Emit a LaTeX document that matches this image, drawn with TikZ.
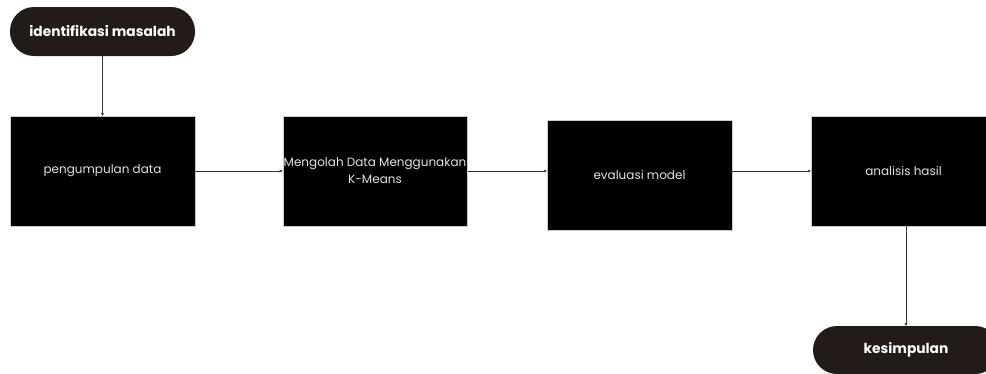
\documentclass[tikz,border=0pt]{standalone}
\usepackage{fontspec}
\setmainfont{Poppins}
\usepackage{xcolor}
\usetikzlibrary{arrows.meta}
\definecolor{termfill}{HTML}{231B18}
\definecolor{steptext}{HTML}{E2E2E2}
\tikzset{
  termnode/.style={rectangle,rounded corners=24pt,fill=termfill,
    minimum width=185pt,minimum height=49pt,inner sep=1pt,
    text=white,font=\fontsize{13.8}{16}\selectfont\bfseries},
  stepnode/.style={rectangle,fill=black,draw=gray!40,line width=0.4pt,
    minimum width=185pt,minimum height=110pt,inner sep=1pt,align=center,
    text=steptext,font=\fontsize{12}{17}\selectfont},
  flowedge/.style={line width=0.8pt,black!80,-{Stealth[length=3pt,width=3pt]}}
}
\begin{document}
\begin{tikzpicture}[x=1pt,y=-1pt]
  \useasboundingbox (0,0) rectangle (986,373);

  \node[termnode] (identifikasi) at (102.5,31.5) {identifikasi masalah};
  \node[stepnode] (pengumpulan) at (102.5,171) {pengumpulan data};
  \node[stepnode,minimum width=184pt] (mengolah) at (375,171)
    {Mengolah Data Menggunakan\\K-Means};
  \node[stepnode] (evaluasi) at (639.5,175) {evaluasi model};
  \node[stepnode] (analisis) at (903.5,171) {analisis hasil};
  \node[termnode,minimum width=186pt,minimum height=48pt] (kesimpulan)
    at (906,350) {kesimpulan};

  \draw[flowedge] (identifikasi) -- (pengumpulan);
  \draw[flowedge] (pengumpulan) -- (mengolah);
  \draw[flowedge] (mengolah.east) -- (mengolah.east -| evaluasi.west);
  \draw[flowedge] (evaluasi.east |- analisis.west) -- (analisis.west);
  \draw[flowedge] (kesimpulan.north |- analisis.south) -- (kesimpulan.north);
\end{tikzpicture}
\end{document}
